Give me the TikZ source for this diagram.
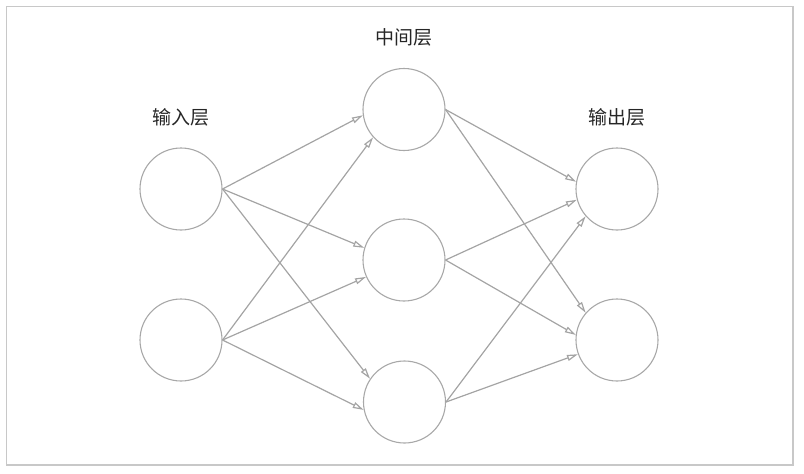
\documentclass[tikz,border=0pt]{standalone}
\usepackage{fontspec}
\newfontfamily\cjk{Noto Sans CJK SC}
\usetikzlibrary{arrows.meta}
\definecolor{framegray}{HTML}{C8C8C8}
\definecolor{circgray}{HTML}{A8A8A8}
\definecolor{linegray}{HTML}{A4A4A4}
\definecolor{textgray}{HTML}{262626}
\tikzset{
  neuron/.style={circle, draw=circgray, line width=1.1pt, minimum size=82pt, inner sep=0pt},
  conn/.style={draw=linegray, line width=1.2pt, -{Triangle[open, length=11pt, width=6pt]}},
  layerlabel/.style={font=\cjk\fontsize{19}{22}\selectfont, text=textgray, inner sep=0pt}
}
\begin{document}
\begin{tikzpicture}[x=1pt,y=-1pt]
\useasboundingbox (0,0) rectangle (804,474);
\draw[framegray, line width=1.5pt] (6.5,6.5) rectangle (793,465);
% nodes
\node[neuron] (i1) at (181,189) {};
\node[neuron] (i2) at (181,340) {};
\node[neuron] (h1) at (404,109.5) {};
\node[neuron] (h2) at (404,260) {};
\node[neuron] (h3) at (404.5,402) {};
\node[neuron] (o1) at (617,189) {};
\node[neuron] (o2) at (617,340) {};
% labels
\node[layerlabel] (l1) at (181,117) {输入层};
\node[layerlabel] (l2) at (404,37) {中间层};
\node[layerlabel] (l3) at (617,117) {输出层};
% connections input -> hidden
\draw[conn] (i1.east) -- (h1.188);
\draw[conn] (i2.east) -- (h1.222);
\draw[conn] (i1.east) -- (h2.163);
\draw[conn] (i2.east) -- (h2.204);
\draw[conn] (i1.east) -- (h3.146);
\draw[conn] (i2.east) -- (h3.191);
% hidden -> output
\draw[conn] (h1.east) -- (o1.170);
\draw[conn] (h2.east) -- (o1.195);
\draw[conn] (h3.east) -- (o1.221);
\draw[conn] (h1.east) -- (o2.139);
\draw[conn] (h2.east) -- (o2.173);
\draw[conn] (h3.east) -- (o2.200);
\end{tikzpicture}
\end{document}
